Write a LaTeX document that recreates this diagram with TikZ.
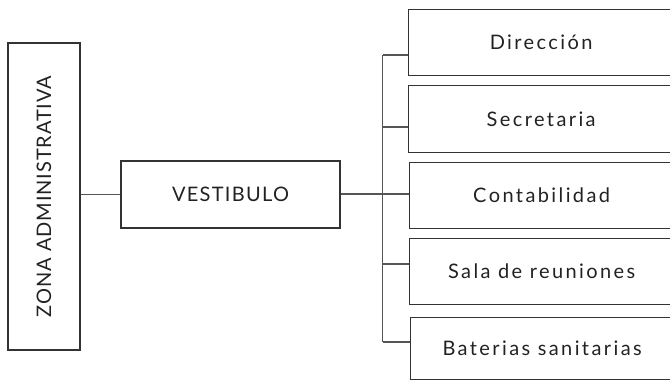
\documentclass[tikz,border=0pt]{standalone}
\usepackage{fontspec}
\setmainfont[LetterSpace=12]{Lato}
\newfontfamily\capsfont[LetterSpace=4.5]{Lato}
\newfontfamily\vestfont[LetterSpace=6.5]{Lato}
\begin{document}
\begin{tikzpicture}[x=1pt,y=-1pt,
  box/.style={draw=boxc, line width=1.3pt, rectangle, inner sep=0pt, text=txt, font=\fontsize{20}{24}\selectfont},
  capsbox/.style={box, font=\fontsize{20}{24}\selectfont\capsfont},
  vestbox/.style={box, font=\fontsize{20}{24}\selectfont\vestfont},
  conn/.style={draw=linec, line width=1.2pt}]
\definecolor{boxc}{HTML}{333333}
\definecolor{linec}{HTML}{555555}
\definecolor{txt}{HTML}{222222}
\useasboundingbox (0,0) rectangle (670,380);
\clip (0,0) rectangle (670,380);
\node[capsbox, minimum width=72pt, minimum height=307pt] (zona) at (44,196.5) {\rotatebox{90}{ZONA ADMINISTRATIVA}};
\node[vestbox, minimum width=219pt, minimum height=67pt] (vest) at (230.5,194.5) {VESTIBULO};
\node[box, minimum width=265pt, minimum height=66pt, anchor=north west] (dir) at (408,9) {Dirección};
\node[box, minimum width=265pt, minimum height=67pt, anchor=north west] (sec) at (408,85) {Secretaria};
\node[box, minimum width=264pt, minimum height=66pt, anchor=north west] (con) at (409,162) {Contabilidad};
\node[box, minimum width=264pt, minimum height=66pt, anchor=north west] (sal) at (409,238) {Sala de reuniones};
\node[box, minimum width=263pt, minimum height=62pt, anchor=north west] (bat) at (410,317) {Baterias sanitarias};
\coordinate (b1) at (382.5,55);
\coordinate (b2) at (382.5,127);
\coordinate (b3) at (382.5,194);
\coordinate (b4) at (382.5,264);
\coordinate (b5) at (382.5,342);
\draw[conn] (zona.east |- vest.west) -- (vest.west);
\draw[conn] (vest.east |- b3) -- (b3 -| con.west);
\draw[conn] (b1) -- (b5);
\draw[conn] (b1) -- (b1 -| dir.west);
\draw[conn] (b2) -- (b2 -| sec.west);
\draw[conn] (b4) -- (b4 -| sal.west);
\draw[conn] (b5) -- (b5 -| bat.west);
\end{tikzpicture}
\end{document}
